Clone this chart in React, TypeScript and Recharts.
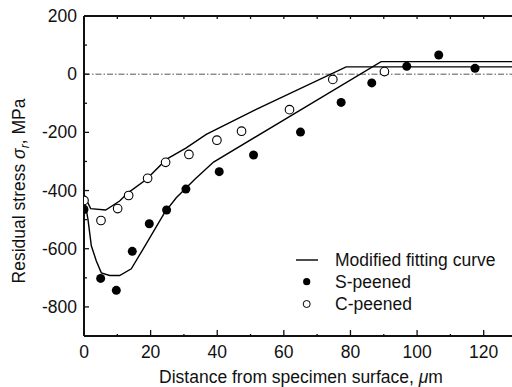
import {
  ScatterChart,
  Scatter,
  XAxis,
  YAxis,
  ReferenceLine,
} from "recharts";

const FONT = "'Liberation Sans', Arial, sans-serif";
const FS = 17.5;

// measured points
const sPeenedX = [0, 5, 9.7, 14.5, 19.6, 24.8, 30.6, 40.6, 50.9, 65, 77.2, 86.4, 96.9, 106.5, 117.4];
const sPeenedY = [-465, -702, -743, -609, -514, -467, -395, -335, -278, -199, -97, -30, 27, 66, 20];
const cPeenedX = [0, 5.1, 10.1, 13.4, 19.1, 24.5, 31.5, 39.9, 47.3, 61.7, 74.7, 90.2];
const cPeenedY = [-434, -503, -462, -417, -358, -303, -276, -227, -196, -122, -18, 9];

// modified fitting curves
const fitSX = [0, 1.2, 2.2, 3.7, 5.2, 7.7, 10.7, 14.2, 17.7, 24.2, 27.7, 33.2, 38.9, 89.2, 130];
const fitSY = [-420, -500, -590, -642, -683, -692, -692, -669, -602, -476, -425, -362, -302, 43, 43];
const fitCX = [0, 2, 6.5, 10.7, 13.2, 18.7, 24.7, 30.7, 36.7, 51.7, 78.7, 130];
const fitCY = [-415, -462, -467, -436, -408, -362, -293, -253, -207, -121, 25, 25];

const xTicks = [0, 10, 20, 30, 40, 50, 60, 70, 80, 90, 100, 110, 120, 130];
const yTicks = [-900, -800, -700, -600, -500, -400, -300, -200, -100, 0, 100, 200];

const zip = (xs: number[], ys: number[]) => xs.map((x, i) => ({ x, y: ys[i] }));

const sPeened = zip(sPeenedX, sPeenedY);
const cPeened = zip(cPeenedX, cPeenedY);
const fitS = zip(fitSX, fitSY);
const fitC = zip(fitCX, fitCY);

const BottomTick = ({ x, y, payload }: any) => {
  const v = payload.value;
  const major = v % 20 === 0;
  return (
    <g>
      <line x1={x} x2={x} y1={y} y2={y - (major ? 6 : 2)} stroke="#111" strokeWidth={1.3} />
      {major && v <= 120 && (
        <text x={x} y={y + 16} dy="0.35em" textAnchor="middle" fontFamily={FONT} fontSize={FS} fill="#111">
          {v}
        </text>
      )}
    </g>
  );
};

const TopTick = ({ x, y }: any) => (
  <line x1={x} x2={x} y1={y} y2={y + 3} stroke="#111" strokeWidth={1.3} />
);

const LeftTick = ({ x, y, payload }: any) => {
  const v = payload.value;
  const major = v % 200 === 0;
  return (
    <g>
      <line x1={x} x2={x + (major ? 5 : 3)} y1={y} y2={y} stroke="#111" strokeWidth={1.3} />
      {major && (
        <text x={x - 7} y={y} dy="0.35em" textAnchor="end" fontFamily={FONT} fontSize={FS} fill="#111">
          {v}
        </text>
      )}
    </g>
  );
};

const XTitle = () => (
  <text x={301} y={377} dy="0.35em" textAnchor="middle" fontFamily={FONT} fontSize={FS} fill="#111">
    Distance from specimen surface, <tspan fontStyle="italic">μ</tspan>m
  </text>
);

const YTitle = () => (
  <text
    x={18.5}
    y={191}
    dy="0.35em"
    textAnchor="middle"
    transform="rotate(-90 18.5 191)"
    fontFamily={FONT}
    fontSize={FS}
    fill="#111"
  >
    Residual stress <tspan fontStyle="italic">σ</tspan>
    <tspan fontStyle="italic" fontSize={12} dy={4}>r</tspan>
    <tspan dy={-4}>, MPa</tspan>
  </text>
);

const Filled = ({ cx, cy }: any) => <circle cx={cx} cy={cy} r={4.5} fill="#000" />;
const Open = ({ cx, cy }: any) => (
  <circle cx={cx} cy={cy} r={4.3} fill="#fff" stroke="#000" strokeWidth={1.1} />
);
const NoDot = () => <g />;

const legendItems = ["Modified fitting curve", "S-peened", "C-peened"];

export default function App() {
  return (
    <div
      style={{
        position: "fixed",
        left: 0,
        top: 0,
        width: 512,
        height: 387,
        overflow: "hidden",
        background: "#fff",
      }}
    >
      <ScatterChart width={530} height={387} margin={{ top: 15, right: 13, left: 0, bottom: 0 }}>
        <XAxis
          xAxisId="top"
          orientation="top"
          type="number"
          dataKey="x"
          domain={[0, 130]}
          ticks={xTicks}
          height={1}
          tickSize={0}
          tickMargin={0}
          tickLine={false}
          tick={<TopTick />}
          interval={0}
          axisLine={{ stroke: "#111", strokeWidth: 2 }}
          allowDataOverflow
        />
        <XAxis
          type="number"
          dataKey="x"
          domain={[0, 130]}
          ticks={xTicks}
          height={51}
          tickSize={0}
          tickMargin={0}
          tickLine={false}
          tick={<BottomTick />}
          interval={0}
          axisLine={{ stroke: "#111", strokeWidth: 2 }}
          label={<XTitle />}
          allowDataOverflow
        />
        <YAxis
          type="number"
          dataKey="y"
          domain={[-900, 200]}
          ticks={yTicks}
          width={84}
          tickSize={0}
          tickMargin={0}
          tickLine={false}
          tick={<LeftTick />}
          interval={0}
          axisLine={{ stroke: "#111", strokeWidth: 2 }}
          label={<YTitle />}
          allowDataOverflow
        />
        <ReferenceLine y={0} stroke="#555" strokeWidth={1} strokeDasharray="6 2 1.5 2" segment={[{ x: 1.5, y: 0 }, { x: 130, y: 0 }]} />
        {/* invisible series so the top frame axis is drawn */}
        <Scatter xAxisId="top" data={fitC} shape={<NoDot />} isAnimationActive={false} />
        <Scatter
          data={fitS}
          line={{ stroke: "#000", strokeWidth: 1.4 }}
          lineType="joint"
          shape={<NoDot />}
          isAnimationActive={false}
        />
        <Scatter
          data={fitC}
          line={{ stroke: "#000", strokeWidth: 1.4 }}
          lineType="joint"
          shape={<NoDot />}
          isAnimationActive={false}
        />
        <Scatter data={sPeened} shape={<Filled />} isAnimationActive={false} />
        <Scatter data={cPeened} shape={<Open />} isAnimationActive={false} />
      </ScatterChart>
      <svg
        width={220}
        height={70}
        style={{ position: "absolute", left: 290, top: 248 }}
      >
        <line x1={6} x2={28} y1={12} y2={12} stroke="#000" strokeWidth={1.4} />
        <circle cx={16.7} cy={33.7} r={3.6} fill="#000" />
        <circle cx={16.7} cy={56} r={3.5} fill="#fff" stroke="#000" strokeWidth={1} />
        {legendItems.map((t, i) => (
          <text
            key={t}
            x={45}
            y={12 + i * 22}
            dy="0.35em"
            fontFamily={FONT}
            fontSize={FS}
            fill="#111"
          >
            {t}
          </text>
        ))}
      </svg>
    </div>
  );
}
